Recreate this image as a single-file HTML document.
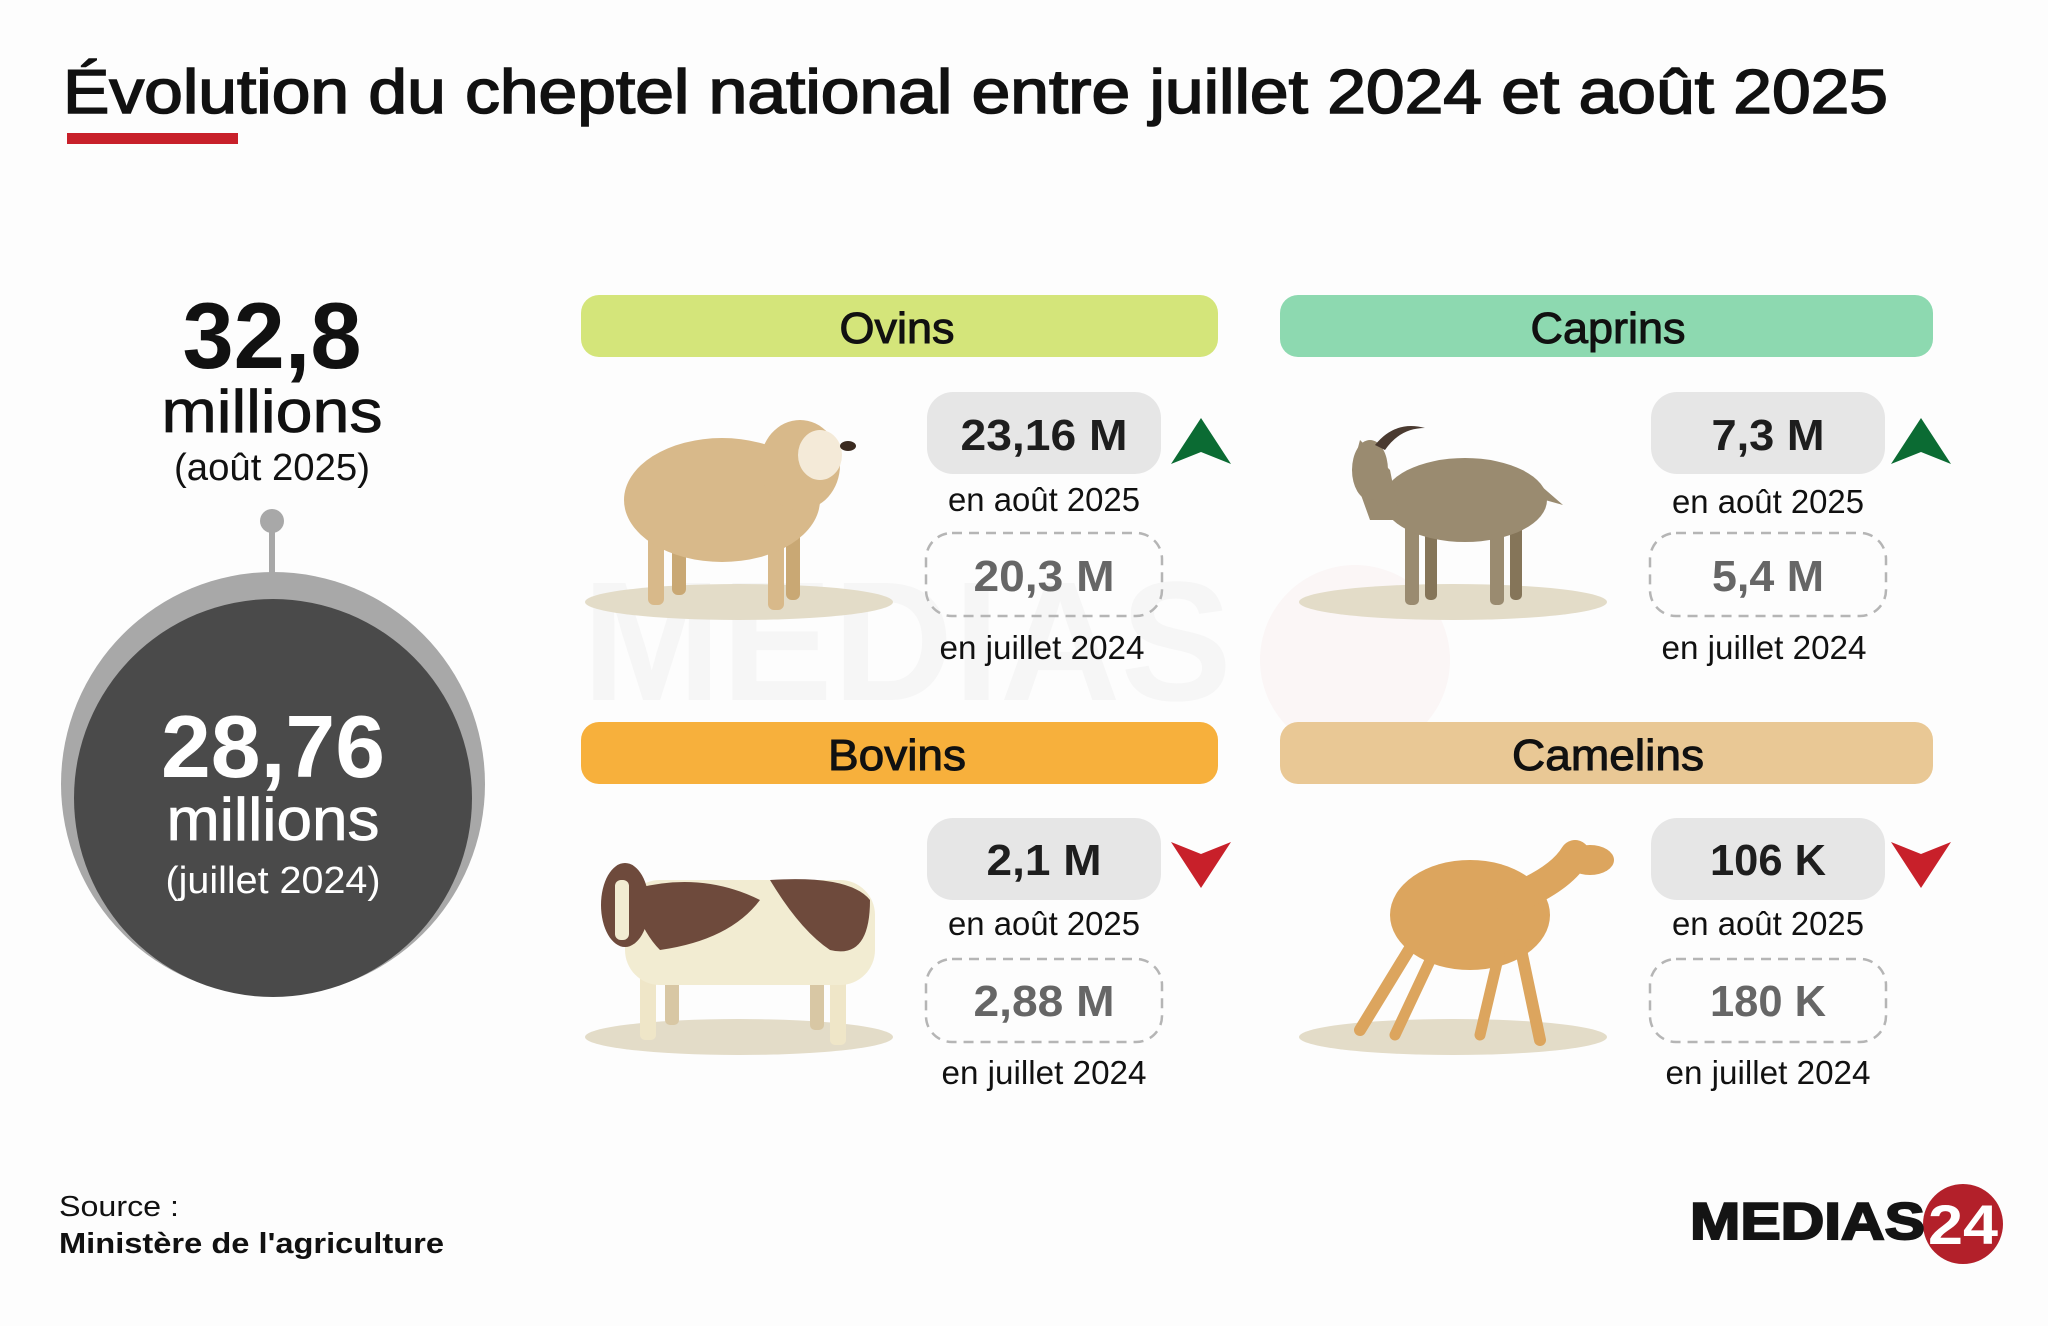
<!DOCTYPE html>
<html><head><meta charset="utf-8"><style>html,body{margin:0;padding:0;background:#fdfdfd}svg{display:block}</style></head>
<body>
<svg width="2048" height="1326" viewBox="0 0 2048 1326" xmlns="http://www.w3.org/2000/svg" font-family="'Liberation Sans', sans-serif">
<rect width="2048" height="1326" fill="#fdfdfd"/>
<text x="63" y="113" font-size="62" fill="#111" stroke="#111" stroke-width="1.6" textLength="1825" lengthAdjust="spacingAndGlyphs">Évolution du cheptel national entre juillet 2024 et août 2025</text>
<rect x="67" y="133" width="171" height="11" fill="#c8202a"/>

<!-- watermark -->
<text x="582" y="700" font-size="170" font-weight="bold" fill="#000" opacity="0.025" textLength="650" lengthAdjust="spacingAndGlyphs">MEDIAS</text>
<circle cx="1355" cy="660" r="95" fill="#c8202a" opacity="0.03"/>

<!-- left summary -->
<g text-anchor="middle" fill="#111">
<text x="272" y="368" font-size="94" font-weight="bold" textLength="179" lengthAdjust="spacingAndGlyphs">32,8</text>
<text x="272" y="432" font-size="60" stroke="#111" stroke-width="0.8" textLength="221" lengthAdjust="spacingAndGlyphs">millions</text>
<text x="272" y="480" font-size="38" textLength="196" lengthAdjust="spacingAndGlyphs">(août 2025)</text>
</g>
<line x1="272" y1="521" x2="272" y2="580" stroke="#a8a8a8" stroke-width="6"/>
<circle cx="272" cy="521" r="12" fill="#a8a8a8"/>
<circle cx="273" cy="784" r="212" fill="#a8a8a8"/>
<circle cx="273" cy="798" r="199" fill="#4a4a4a"/>
<g text-anchor="middle" fill="#fff">
<text x="273" y="777" font-size="88" font-weight="bold" textLength="224" lengthAdjust="spacingAndGlyphs">28,76</text>
<text x="273" y="840" font-size="60" stroke="#fff" stroke-width="0.8" textLength="213" lengthAdjust="spacingAndGlyphs">millions</text>
<text x="273" y="893" font-size="38" textLength="215" lengthAdjust="spacingAndGlyphs">(juillet 2024)</text>
</g>

<!-- bars -->
<rect x="581" y="295" width="637" height="62" rx="18" fill="#d4e57a"/>
<rect x="1280" y="295" width="653" height="62" rx="18" fill="#8dd9b0"/>
<rect x="581" y="722" width="637" height="62" rx="18" fill="#f7b03c"/>
<rect x="1280" y="722" width="653" height="62" rx="18" fill="#e9c895"/>
<g text-anchor="middle" fill="#111" stroke="#111" stroke-width="1" font-size="44">
<text x="897" y="343" textLength="115" lengthAdjust="spacingAndGlyphs">Ovins</text>
<text x="1608" y="343" textLength="155" lengthAdjust="spacingAndGlyphs">Caprins</text>
<text x="897" y="770" textLength="138" lengthAdjust="spacingAndGlyphs">Bovins</text>
<text x="1608" y="770" textLength="192" lengthAdjust="spacingAndGlyphs">Camelins</text>
</g>

<!-- value boxes -->
<g>
<rect x="927" y="392" width="234" height="82" rx="26" fill="#e6e6e6"/>
<rect x="926" y="533" width="236" height="83" rx="26" fill="none" stroke="#b5b5b5" stroke-width="2.5" stroke-dasharray="10 7"/>
<rect x="1651" y="392" width="234" height="82" rx="26" fill="#e6e6e6"/>
<rect x="1650" y="533" width="236" height="83" rx="26" fill="none" stroke="#b5b5b5" stroke-width="2.5" stroke-dasharray="10 7"/>
<rect x="927" y="818" width="234" height="82" rx="26" fill="#e6e6e6"/>
<rect x="926" y="959" width="236" height="83" rx="26" fill="none" stroke="#b5b5b5" stroke-width="2.5" stroke-dasharray="10 7"/>
<rect x="1651" y="818" width="234" height="82" rx="26" fill="#e6e6e6"/>
<rect x="1650" y="959" width="236" height="83" rx="26" fill="none" stroke="#b5b5b5" stroke-width="2.5" stroke-dasharray="10 7"/>
</g>
<g text-anchor="middle">
<text x="1044" y="450" font-size="44" font-weight="bold" fill="#1e1e1e" textLength="167" lengthAdjust="spacingAndGlyphs">23,16 M</text>
<text x="1044" y="511" font-size="33" fill="#111" textLength="192" lengthAdjust="spacingAndGlyphs">en août 2025</text>
<text x="1044" y="591" font-size="44" font-weight="bold" fill="#666" textLength="141" lengthAdjust="spacingAndGlyphs">20,3 M</text>
<text x="1042" y="659" font-size="33" fill="#111" textLength="205" lengthAdjust="spacingAndGlyphs">en juillet 2024</text>

<text x="1768" y="450" font-size="44" font-weight="bold" fill="#1e1e1e" textLength="113" lengthAdjust="spacingAndGlyphs">7,3 M</text>
<text x="1768" y="513" font-size="33" fill="#111" textLength="192" lengthAdjust="spacingAndGlyphs">en août 2025</text>
<text x="1768" y="591" font-size="44" font-weight="bold" fill="#666" textLength="112" lengthAdjust="spacingAndGlyphs">5,4 M</text>
<text x="1764" y="659" font-size="33" fill="#111" textLength="205" lengthAdjust="spacingAndGlyphs">en juillet 2024</text>

<text x="1044" y="875" font-size="44" font-weight="bold" fill="#1e1e1e" textLength="115" lengthAdjust="spacingAndGlyphs">2,1 M</text>
<text x="1044" y="935" font-size="33" fill="#111" textLength="192" lengthAdjust="spacingAndGlyphs">en août 2025</text>
<text x="1044" y="1016" font-size="44" font-weight="bold" fill="#666" textLength="141" lengthAdjust="spacingAndGlyphs">2,88 M</text>
<text x="1044" y="1084" font-size="33" fill="#111" textLength="205" lengthAdjust="spacingAndGlyphs">en juillet 2024</text>

<text x="1768" y="875" font-size="44" font-weight="bold" fill="#1e1e1e" textLength="116" lengthAdjust="spacingAndGlyphs">106 K</text>
<text x="1768" y="935" font-size="33" fill="#111" textLength="192" lengthAdjust="spacingAndGlyphs">en août 2025</text>
<text x="1768" y="1016" font-size="44" font-weight="bold" fill="#666" textLength="116" lengthAdjust="spacingAndGlyphs">180 K</text>
<text x="1768" y="1084" font-size="33" fill="#111" textLength="205" lengthAdjust="spacingAndGlyphs">en juillet 2024</text>
</g>

<!-- arrows -->
<polygon points="1201,418 1231,464 1201,452 1171,464" fill="#0b6b33"/>
<polygon points="1921,418 1951,464 1921,452 1891,464" fill="#0b6b33"/>
<polygon points="1201,888 1231,842 1201,854 1171,842" fill="#c8202a"/>
<polygon points="1921,888 1951,842 1921,854 1891,842" fill="#c8202a"/>

<!-- shadows -->
<ellipse cx="739" cy="602" rx="154" ry="18" fill="#e3dcc8"/>
<ellipse cx="1453" cy="602" rx="154" ry="18" fill="#e3dcc8"/>
<ellipse cx="739" cy="1037" rx="154" ry="18" fill="#e3dcc8"/>
<ellipse cx="1453" cy="1037" rx="154" ry="18" fill="#e3dcc8"/>

<!-- sheep -->
<g fill="#d8b98a">
<rect x="648" y="520" width="16" height="85" rx="6"/>
<rect x="672" y="525" width="14" height="70" rx="6" fill="#c9a874"/>
<rect x="768" y="530" width="16" height="80" rx="6"/>
<rect x="786" y="530" width="14" height="70" rx="6" fill="#c9a874"/>
<ellipse cx="722" cy="500" rx="98" ry="62"/>
<ellipse cx="800" cy="465" rx="40" ry="45"/>
<ellipse cx="820" cy="455" rx="22" ry="25" fill="#f4ead8"/>
<ellipse cx="848" cy="446" rx="8" ry="5" fill="#3a2a20"/>
</g>

<!-- goat -->
<g fill="#9a8b70">
<rect x="1405" y="520" width="14" height="85" rx="5"/>
<rect x="1425" y="520" width="12" height="80" rx="5" fill="#857559"/>
<rect x="1490" y="520" width="14" height="85" rx="5"/>
<rect x="1510" y="520" width="12" height="80" rx="5" fill="#857559"/>
<ellipse cx="1465" cy="500" rx="82" ry="42"/>
<polygon points="1390,470 1360,440 1352,470 1370,520 1400,520"/>
<polygon points="1540,485 1563,505 1545,500"/>
<ellipse cx="1370" cy="470" rx="18" ry="30"/>
<path d="M1375 445 Q1395 420 1425 428 Q1400 428 1385 450 Z" fill="#4a3a30"/>
</g>

<!-- cow -->
<g>
<rect x="640" y="960" width="16" height="80" rx="5" fill="#efe6c8"/>
<rect x="665" y="960" width="14" height="65" rx="5" fill="#d8c7a4"/>
<rect x="830" y="960" width="16" height="85" rx="5" fill="#efe6c8"/>
<rect x="810" y="960" width="14" height="70" rx="5" fill="#d8c7a4"/>
<rect x="625" y="880" width="250" height="105" rx="35" fill="#f2ecd2"/>
<path d="M630 890 Q700 870 760 900 Q730 940 660 950 Q640 930 630 890 Z" fill="#6e4a3c"/>
<path d="M770 880 Q850 875 870 900 Q870 960 830 950 Q800 930 770 880 Z" fill="#6e4a3c"/>
<ellipse cx="625" cy="905" rx="24" ry="42" fill="#6e4a3c"/>
<rect x="615" y="880" width="14" height="60" rx="6" fill="#f2ecd2"/>
</g>

<!-- camel -->
<g fill="#dca55e" stroke="#dca55e" stroke-linecap="round">
<ellipse cx="1470" cy="915" rx="80" ry="55" stroke="none"/>
<path d="M1510 900 Q1560 880 1575 855" stroke-width="30" fill="none"/>
<ellipse cx="1590" cy="860" rx="24" ry="15" stroke="none"/>
<line x1="1415" y1="940" x2="1360" y2="1030" stroke-width="12"/>
<line x1="1435" y1="950" x2="1395" y2="1035" stroke-width="11"/>
<line x1="1500" y1="950" x2="1480" y2="1035" stroke-width="11"/>
<line x1="1520" y1="945" x2="1540" y2="1040" stroke-width="12"/>
</g>

<!-- source -->
<text x="59" y="1216" font-size="29" fill="#111" textLength="120" lengthAdjust="spacingAndGlyphs">Source :</text>
<text x="59" y="1253" font-size="29" font-weight="bold" fill="#111" textLength="385" lengthAdjust="spacingAndGlyphs">Ministère de l'agriculture</text>

<!-- logo -->
<circle cx="1963" cy="1224" r="40" fill="#b3202a"/>
<text x="1690" y="1239" font-size="52" font-weight="bold" fill="#141414" stroke="#141414" stroke-width="2" textLength="235" lengthAdjust="spacingAndGlyphs">MEDIAS</text>
<text x="1928" y="1244" font-size="56" font-weight="bold" fill="#fff" textLength="70" lengthAdjust="spacingAndGlyphs">24</text>
</svg>
</body></html>
